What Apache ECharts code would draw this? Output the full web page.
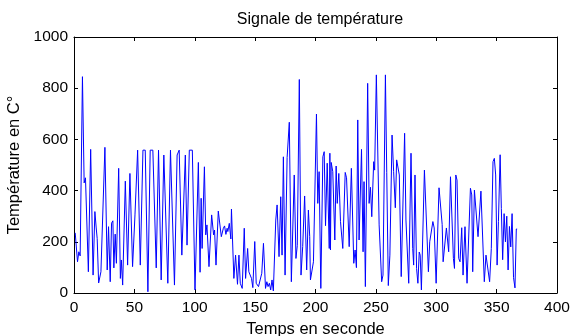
<!DOCTYPE html>
<html>
<head>
<meta charset="utf-8">
<script src="https://cdn.jsdelivr.net/npm/echarts@6/dist/echarts.min.js"></script>
<style>
html,body{margin:0;padding:0;background:#fff;}
#chart{width:574px;height:336px;}
</style>
</head>
<body>
<div id="chart"></div>
<script>
const titleText = "Signale de température";
const xName = "Temps en seconde";
const yName = "Température en C°";

const time = [
1, 2.9, 4.0, 5.1, 7.0, 8.4, 9.5, 10.5, 11.9, 13.8,
15.8, 17.3, 18.4, 19.2, 20.4, 22.3, 25.6, 27.5, 28.6, 30.0,
31.1, 32.2, 33.0, 34.1, 35.1, 37.0, 38.4, 39.2, 40.3, 42.5,
44.4, 46.3, 48.5, 50.5, 52.7, 54.9, 57.1, 59.0, 61.2, 63.1,
65.3, 68.1, 70.0, 72.2, 74.4, 75.7, 77.7, 79.9, 81.0, 83.2,
85.4, 87.1, 89.3, 90.4, 92.2, 93.6, 95.5, 98.0, 100.2, 103.0,
104.4, 105.3, 106.1, 108.0, 109.1, 110.1, 111.8, 114.0, 114.9, 115.6,
116.4, 117.6, 119.5, 120.9, 122.0, 123.7, 124.7, 125.8, 126.8, 127.4,
128.6, 129.9, 130.4, 132.4, 133.8, 135.4, 136.6, 137.7, 139.3, 141.0,
142.1, 143.8, 144.8, 145.9, 147.0, 148.1, 149.7, 150.9, 152.8, 155.5,
156.9, 158.6, 159.7, 160.7, 161.8, 162.9, 164.0, 165.1, 167.1, 168.2,
169.8, 171.2, 172.3, 173.4, 174.8, 176.5, 177.5, 178.3, 180.0, 180.8,
182.4, 183.8, 184.9, 186.6, 188.0, 189.4, 191.0, 192.7, 194.1, 195.2,
195.8, 197.2, 198.3, 199.1, 200.8, 201.9, 203.0, 204.4, 206.1, 207.2,
208.3, 209.7, 211.4, 211.9, 212.4, 213.0, 214.3, 216.0, 217.1, 218.0,
219.3, 220.7, 222.6, 224.6, 225.7, 227.9, 229.7, 231.7, 232.8, 233.9,
235.0, 236.1, 238.1, 239.4, 240.2, 241.3, 243.2, 244.4, 245.5, 246.6,
248.2, 249.0, 250.4, 251.5, 252.7, 254.8, 255.9, 257.9, 259.0, 260.3,
261.6, 263.4, 264.7, 266.1, 267.2, 268.6, 269.4, 271.0, 273.8, 274.9,
277.2, 279.1, 280.5, 281.3, 282.4, 283.7, 284.8, 285.9, 286.7, 287.7,
290.2, 293.5, 294.6, 297.2, 298.3, 299.9, 302.3, 304.9, 305.7, 307.1,
308.4, 310.3, 311.8, 312.9, 314.2, 315.1, 316.2, 317.2, 318.6, 319.7,
321.1, 322.2, 323.8, 325.5, 328.3, 329.4, 330.2, 331.6, 333.0, 334.6,
335.4, 337.0, 337.9, 339.8, 341.2, 342.8, 344.2, 345.6, 347.0, 348.1,
349.2, 350.4, 351.5, 352.9, 353.9, 355.0, 356.2, 357.3, 358.4, 359.5,
360.6, 361.7, 362.8, 364.0, 365.2, 366.3, 367.0
];

const temperature = [
235, 122, 161, 145, 845, 430, 450, 454, 83, 561,
70, 318, 254, 213, 39, 83, 569, 90, 259, 44,
273, 282, 98, 230, 116, 487, 57, 129, 31, 437,
109, 467, 103, 305, 558, 109, 558, 558, 5, 558,
558, 98, 558, 51, 539, 539, 38, 558, 558, 31,
539, 558, 148, 142, 539, 187, 558, 558, 12, 510,
81, 370, 174, 493, 227, 266, 103, 305, 300, 227,
246, 109, 320, 327, 220, 253, 262, 229, 253, 240,
272, 211, 328, 57, 148, 34, 148, 38, 18, 253,
57, 174, 83, 89, 57, 21, 201, 38, 25, 77,
194, 18, 44, 25, 38, 12, 51, 8, 285, 344,
142, 376, 148, 532, 70, 529, 530, 667, 44, 51,
461, 135, 185, 834, 70, 181, 379, 90, 324, 220,
51, 51, 122, 115, 699, 350, 474, 18, 532, 552,
263, 507, 174, 546, 168, 510, 474, 207, 496, 350,
467, 279, 174, 471, 450, 181, 487, 116, 168, 99,
676, 207, 561, 161, 435, 25, 819, 350, 413, 298,
513, 480, 852, 845, 266, 44, 70, 852, 470, 29,
148, 617, 474, 333, 520, 513, 461, 64, 624, 285,
38, 546, 174, 109, 461, 96, 38, 160, 148, 12,
480, 83, 200, 279, 254, 38, 411, 268, 122, 122,
254, 161, 454, 461, 135, 96, 461, 441, 135, 122,
255, 70, 259, 38, 409, 383, 83, 402, 398, 220,
220, 398, 392, 44, 148, 142, 44, 174, 513, 526,
461, 109, 279, 540, 330, 130, 310, 200, 300, 90,
260, 180, 310, 60, 20, 250, 250
];

const xTicks = {min: 0, max: 400, interval: 50};
const yTicks = {min: 0, max: 1000, interval: 200};

const seriesData = time.map((t, i) => [t, temperature[i]]);

const font = "Liberation Sans, Arial, sans-serif";
const chart = echarts.init(document.getElementById('chart'), null, {renderer: 'canvas'});

const baseAxisLine = {show: true, onZero: false, lineStyle: {color: '#000', width: 1}};
const baseTick = {show: true, inside: true, length: 4, lineStyle: {color: '#000', width: 1}};
const plainNum = v => String(v);

chart.setOption({
  animation: false,
  backgroundColor: '#fff',
  title: {
    text: titleText,
    left: 315, textAlign: 'center', top: 7,
    textStyle: {fontFamily: font, fontSize: 16, fontWeight: 'normal', color: '#000'}
  },
  grid: {left: 74, right: 17, top: 37, bottom: 43, containLabel: false, outerBoundsMode: 'none'},
  xAxis: [{
    type: 'value', position: 'bottom', min: xTicks.min, max: xTicks.max, interval: xTicks.interval,
    name: xName, nameLocation: 'middle', nameGap: 27,
    nameTextStyle: {fontFamily: font, fontSize: 16.5, color: '#000'},
    axisLine: baseAxisLine, axisTick: baseTick,
    axisLabel: {fontFamily: font, fontSize: 15.5, color: '#000', margin: 7, formatter: plainNum},
    splitLine: {show: false}
  }, {
    type: 'value', position: 'top', min: xTicks.min, max: xTicks.max, interval: xTicks.interval,
    axisLine: baseAxisLine, axisTick: baseTick, axisLabel: {show: false}, splitLine: {show: false}
  }],
  yAxis: [{
    type: 'value', position: 'left', min: yTicks.min, max: yTicks.max, interval: yTicks.interval,
    name: yName, nameLocation: 'middle', nameGap: 50,
    nameTextStyle: {fontFamily: font, fontSize: 16.5, color: '#000'},
    axisLine: baseAxisLine, axisTick: baseTick,
    axisLabel: {fontFamily: font, fontSize: 15.5, color: '#000', margin: 6, formatter: plainNum},
    splitLine: {show: false}
  }, {
    type: 'value', position: 'right', min: yTicks.min, max: yTicks.max, interval: yTicks.interval,
    axisLine: baseAxisLine, axisTick: baseTick, axisLabel: {show: false}, splitLine: {show: false}
  }],
  series: [{
    type: 'line', xAxisIndex: 0, yAxisIndex: 0,
    data: seriesData, showSymbol: false, symbol: 'none',
    lineStyle: {color: '#0000ff', width: 1}, clip: true
  }]
});
</script>
</body>
</html>
